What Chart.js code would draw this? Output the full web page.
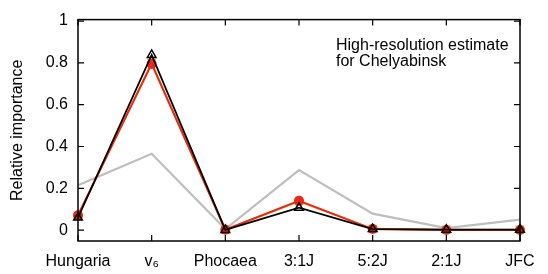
<!DOCTYPE html>
<html lang="en">
<head>
  <meta charset="UTF-8">
  <title>Relative importance</title>
  <style>
    html, body { margin: 0; padding: 0; background: #fff; }
    #wrap { width: 548px; height: 274px; }
  </style>
</head>
<body>
  <div id="wrap"><canvas id="chart" width="548" height="274"></canvas></div>

  <script src="https://cdn.jsdelivr.net/npm/chart.js@4.4.1/dist/chart.umd.min.js"></script>
  <script>
    // source regions
    const regions = ['Hungaria', 'v\u2086', 'Phocaea', '3:1J', '5:2J', '2:1J', 'JFC'];

    // series
    const grayVals   = [0.215, 0.365, 0.005, 0.287, 0.079, 0.010, 0.050];
    const yellowVals = [0.068, 0.800, 0.002, 0.138, 0.006, 0.002, 0.002];
    const redVals    = [0.071, 0.795, 0.002, 0.140, 0.005, 0.001, 0.001];
    const blackVals  = [0.060, 0.838, 0.001, 0.107, 0.005, 0.002, 0.002];

    const yTicks = [0, 0.2, 0.4, 0.6, 0.8, 1];
    const noteLines = ['High-resolution estimate', 'for Chelyabinsk'];

    const FONT = '"Liberation Sans", Arial, Helvetica, sans-serif';
    Chart.defaults.font.family = FONT;
    Chart.defaults.font.size = 16;
    Chart.defaults.color = '#000';

    // frame with inward ticks (gnuplot style), plus the note
    const frame = {
      id: 'frame',
      afterDraw(chart) {
        const ctx = chart.ctx;
        const a = chart.chartArea;
        const xs = chart.scales.x, ys = chart.scales.y;
        const t = 6;
        ctx.save();
        ctx.strokeStyle = '#000000';
        ctx.lineWidth = 1.5;
        ctx.strokeRect(a.left, a.top, a.right - a.left, a.bottom - a.top);
        ctx.lineWidth = 1.2;
        ctx.beginPath();
        regions.forEach((name, i) => {
          const px = xs.getPixelForValue(i);
          ctx.moveTo(px, a.bottom);
          ctx.lineTo(px, a.bottom - t);
          ctx.moveTo(px, a.top);
          ctx.lineTo(px, a.top + t);
        });
        yTicks.forEach(v => {
          const py = ys.getPixelForValue(v);
          ctx.moveTo(a.left, py);
          ctx.lineTo(a.left + t, py);
          ctx.moveTo(a.right, py);
          ctx.lineTo(a.right - t, py);
        });
        ctx.stroke();

        ctx.fillStyle = '#000';
        ctx.font = '16px ' + FONT;
        ctx.textBaseline = 'alphabetic';
        ctx.textAlign = 'left';
        noteLines.forEach((s, i) => {
          ctx.fillText(s, a.left + 258, a.top + 30 + i * 16.7);
        });
        ctx.restore();
      }
    };

    new Chart(document.getElementById('chart'), {
      type: 'line',
      data: {
        labels: regions,
        datasets: [
          {
            label: 'gray',
            data: grayVals,
            borderColor: '#bebebe',
            borderWidth: 2.2,
            pointRadius: 0,
            order: 4
          },
          {
            label: 'yellow',
            data: yellowVals,
            borderColor: '#f0b818',
            backgroundColor: '#f0c020',
            borderWidth: 2,
            pointStyle: 'rect',
            pointRadius: 6,
            pointBorderWidth: 0,
            order: 3
          },
          {
            label: 'red',
            data: redVals,
            borderColor: '#e8281a',
            backgroundColor: '#e8281a',
            borderWidth: 2,
            pointStyle: 'circle',
            pointRadius: 5,
            pointBorderWidth: 0,
            order: 2
          },
          {
            label: 'black',
            data: blackVals,
            borderColor: '#000',
            backgroundColor: 'rgba(0,0,0,0)',
            borderWidth: 1.8,
            pointStyle: 'triangle',
            pointRadius: 5,
            pointBorderWidth: 1.5,
            order: 1
          }
        ]
      },
      options: {
        responsive: false,
        animation: false,
        events: [],
        layout: { padding: { top: 14.4, right: 28, left: 0, bottom: 0 } },
        plugins: {
          legend: { display: false },
          tooltip: { enabled: false }
        },
        scales: {
          x: {
            type: 'category',
            offset: false,
            grid: { display: false, drawTicks: false, offset: false },
            border: { display: false },
            ticks: { padding: 11, maxRotation: 0, autoSkip: false, font: { size: 16 } },
            afterFit: s => { s.height = 33; }
          },
          y: {
            min: -0.052,
            max: 1.007,
            grid: { display: false, drawTicks: false },
            border: { display: false },
            afterBuildTicks: s => { s.ticks = yTicks.map(v => ({ value: v })); },
            ticks: {
              padding: 10,
              font: { size: 16 },
              callback: v => String(Math.round(v * 10) / 10)
            },
            title: {
              display: true,
              text: 'Relative importance',
              font: { size: 16 },
              padding: { top: 8, bottom: 0 }
            },
            afterFit: s => { s.width = 78; }
          }
        }
      },
      plugins: [frame]
    });
  </script>
</body>
</html>
